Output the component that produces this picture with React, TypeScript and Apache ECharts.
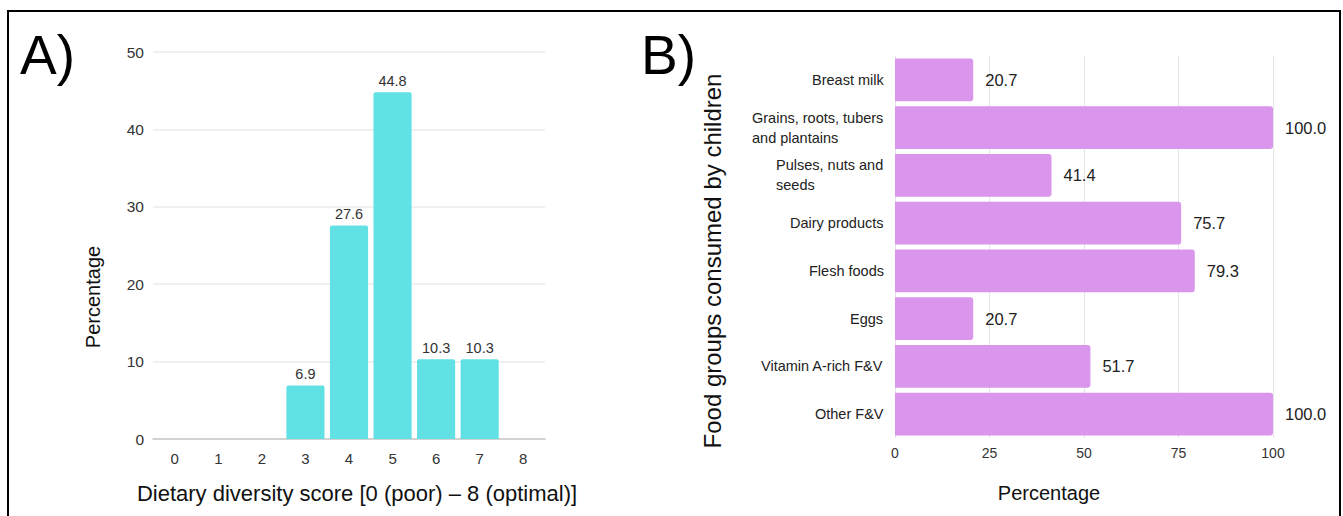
import React, { useEffect, useRef } from "react";
import * as echarts from "echarts";

const scoreCategories = ["0", "1", "2", "3", "4", "5", "6", "7", "8"];
const scorePercent = [0, 0, 0, 6.9, 27.6, 44.8, 10.3, 10.3, 0];
const scoreTicks = [0, 10, 20, 30, 40, 50];

const foodGroups = [
  "Breast milk",
  "Grains, roots, tubers\nand plantains",
  "Pulses, nuts and\nseeds",
  "Dairy products",
  "Flesh foods",
  "Eggs",
  "Vitamin A-rich F&V",
  "Other F&V",
];
const foodPercent = [20.7, 100.0, 41.4, 75.7, 79.3, 20.7, 51.7, 100.0];
const percentTicks = [0, 25, 50, 75, 100];

const FONT = "'Liberation Sans', Arial, Helvetica, sans-serif";
const CAT_SIZE = 14.5;

function measure(text: string, size: number): number {
  const c = document.createElement("canvas");
  const ctx = c.getContext("2d");
  if (!ctx) return text.length * size * 0.5;
  ctx.font = `${size}px ${FONT}`;
  return Math.ceil(ctx.measureText(text).width);
}

export default function App() {
  const ref = useRef<HTMLDivElement>(null);

  useEffect(() => {
    if (!ref.current) return;
    const chart = echarts.init(ref.current, undefined, { renderer: "svg" });

    const rich: Record<string, any> = {};
    foodGroups.forEach((g, i) => {
      const lines = g.split("\n");
      const w = Math.max(...lines.map((l) => measure(l, CAT_SIZE)));
      rich["l" + i] = {
        width: w,
        align: "left",
        fontSize: CAT_SIZE,
        lineHeight: 20,
        color: "#222",
        fontFamily: FONT,
      };
    });

    chart.setOption({
      animation: false,
      textStyle: { fontFamily: FONT },
      grid: [
        { left: 153, top: 52, width: 392, height: 387 },
        { left: 895, top: 56, width: 378, height: 382 },
      ],
      xAxis: [
        {
          gridIndex: 0,
          type: "category",
          data: scoreCategories,
          axisTick: { show: false },
          axisLine: { lineStyle: { color: "#c8c8c8", width: 1.5 } },
          axisLabel: { color: "#333", fontSize: 15, margin: 12 },
        },
        {
          gridIndex: 1,
          type: "value",
          min: percentTicks[0],
          max: percentTicks[percentTicks.length - 1],
          interval: 25,
          axisLine: { show: false },
          axisTick: { show: false },
          splitLine: { lineStyle: { color: "#e4e4e4" } },
          axisLabel: { color: "#333", fontSize: 14, margin: 8 },
        },
      ],
      yAxis: [
        {
          gridIndex: 0,
          type: "value",
          min: scoreTicks[0],
          max: scoreTicks[scoreTicks.length - 1],
          interval: 10,
          axisLine: { show: false },
          axisTick: { show: false },
          splitLine: { lineStyle: { color: "#ebebeb", width: 1.5 } },
          axisLabel: { color: "#333", fontSize: 15.5, margin: 9 },
        },
        {
          gridIndex: 1,
          type: "category",
          data: foodGroups,
          inverse: true,
          axisTick: { show: false },
          axisLine: { lineStyle: { color: "#e4e4e4" } },
          axisLabel: {
            margin: 11,
            formatter: (v: string, idx: number) =>
              v
                .split("\n")
                .map((l) => `{l${idx}|${l}}`)
                .join("\n"),
            rich,
          },
        },
      ],
      series: [
        {
          type: "bar",
          xAxisIndex: 0,
          yAxisIndex: 0,
          data: scorePercent,
          barCategoryGap: "12.5%",
          itemStyle: { color: "#62E1E4", borderRadius: [2, 2, 0, 0] },
          label: {
            show: true,
            position: "top",
            distance: 4,
            color: "#333",
            fontSize: 14.5,
            formatter: (p: any) => (p.value > 0 ? Number(p.value).toFixed(1) : ""),
          },
        },
        {
          type: "bar",
          xAxisIndex: 1,
          yAxisIndex: 1,
          data: foodPercent,
          barCategoryGap: "10%",
          itemStyle: { color: "#DA95EC", borderRadius: [0, 3, 3, 0] },
          label: {
            show: true,
            position: "right",
            distance: 12,
            color: "#222",
            fontSize: 16.5,
            formatter: (p: any) => Number(p.value).toFixed(1),
          },
        },
      ],
      graphic: [
        {
          type: "rect",
          shape: { x: 8, y: 11, width: 1332, height: 520 },
          style: { fill: "none", stroke: "#000", lineWidth: 2 },
          silent: true,
        },
        {
          type: "text",
          x: 20,
          y: 55,
          style: {
            text: "A)",
            fontSize: 55,
            fontFamily: FONT,
            fill: "#000",
            textVerticalAlign: "middle",
          },
        },
        {
          type: "text",
          x: 641,
          y: 55,
          style: {
            text: "B)",
            fontSize: 55,
            fontFamily: FONT,
            fill: "#000",
            textVerticalAlign: "middle",
          },
        },
        {
          type: "text",
          x: 357,
          y: 493,
          style: {
            text: "Dietary diversity score [0 (poor) \u2013 8 (optimal)]",
            fontSize: 22,
            fontFamily: FONT,
            fill: "#111",
            align: "center",
            verticalAlign: "middle",
          },
        },
        {
          type: "text",
          x: 93,
          y: 297,
          rotation: Math.PI / 2,
          style: {
            text: "Percentage",
            fontSize: 20,
            fontFamily: FONT,
            fill: "#111",
            align: "center",
            verticalAlign: "middle",
          },
        },
        {
          type: "text",
          x: 1049,
          y: 493,
          style: {
            text: "Percentage",
            fontSize: 20,
            fontFamily: FONT,
            fill: "#111",
            align: "center",
            verticalAlign: "middle",
          },
        },
        {
          type: "text",
          x: 712,
          y: 261,
          rotation: Math.PI / 2,
          style: {
            text: "Food groups consumed by children",
            fontSize: 24,
            fontFamily: FONT,
            fill: "#111",
            align: "center",
            verticalAlign: "middle",
          },
        },
      ],
    });

    return () => chart.dispose();
  }, []);

  return (
    <div
      ref={ref}
      style={{ position: "fixed", left: 0, top: 0, width: 1343, height: 516, background: "#fff" }}
    />
  );
}
